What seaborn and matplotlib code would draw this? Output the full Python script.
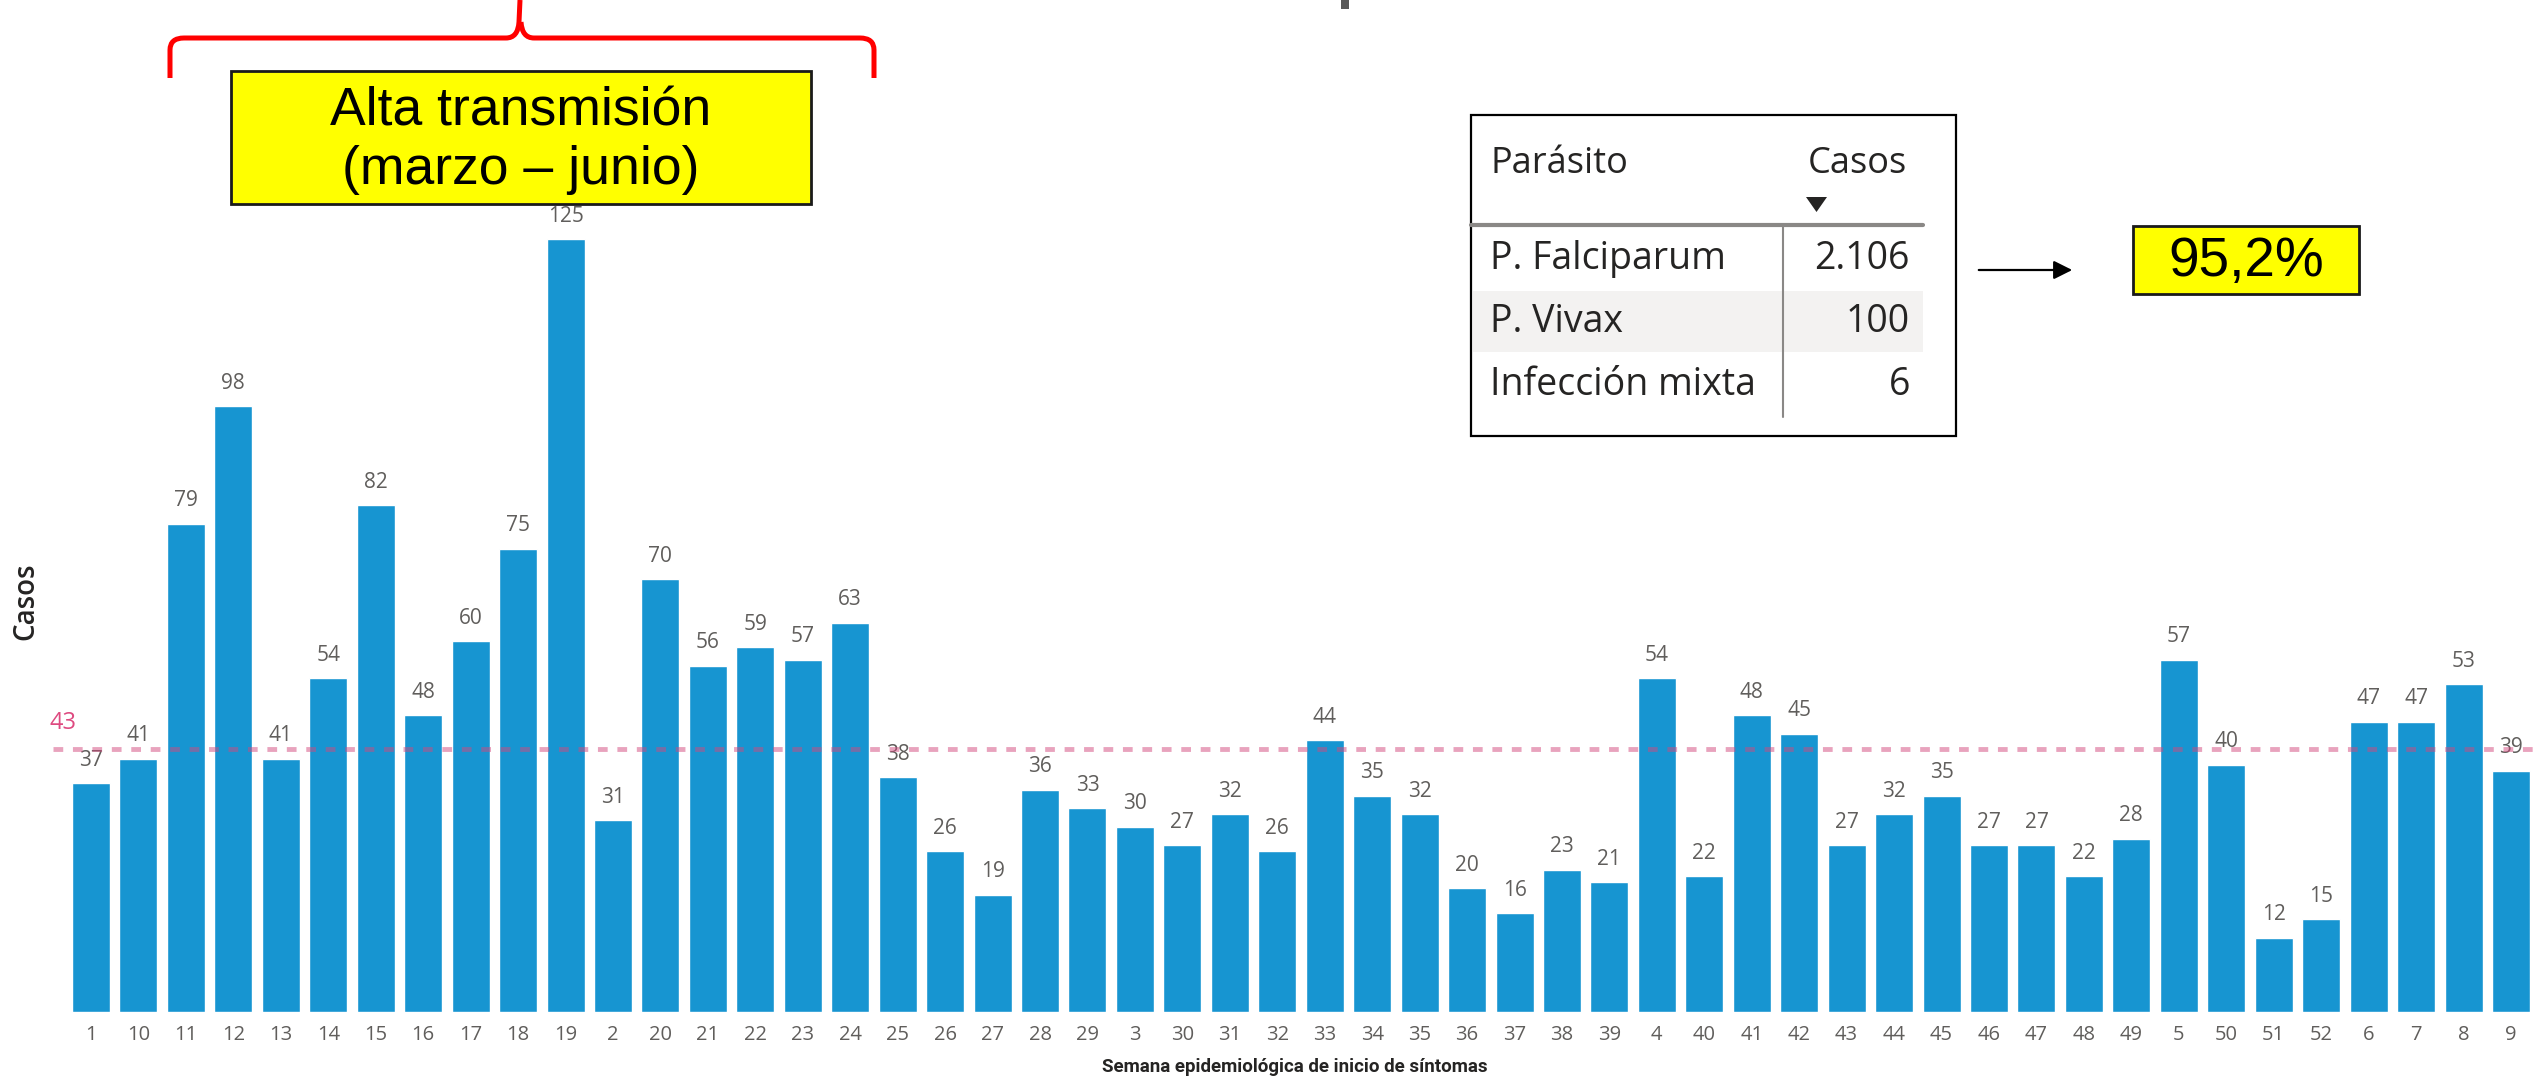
import matplotlib
matplotlib.use("Agg")
import numpy as np
import pandas as pd
import matplotlib.pyplot as plt
import seaborn as sns
from matplotlib import font_manager
from matplotlib.patches import Rectangle, PathPatch, FancyArrowPatch, Polygon
from matplotlib.path import Path
from matplotlib.lines import Line2D

# ---------------- data ----------------
semanas = ["1", "10", "11", "12", "13", "14", "15", "16", "17", "18", "19",
           "2", "20", "21", "22", "23", "24", "25", "26", "27", "28", "29",
           "3", "30", "31", "32", "33", "34", "35", "36", "37", "38", "39",
           "4", "40", "41", "42", "43", "44", "45", "46", "47", "48", "49",
           "5", "50", "51", "52", "6", "7", "8", "9"]
casos = [37, 41, 79, 98, 41, 54, 82, 48, 60, 75, 125,
         31, 70, 56, 59, 57, 63, 38, 26, 19, 36, 33,
         30, 27, 32, 26, 44, 35, 32, 20, 16, 23, 21,
         54, 22, 48, 45, 27, 32, 35, 27, 27, 22, 28,
         57, 40, 12, 15, 47, 47, 53, 39]
parasitos = ["P. Falciparum", "P. Vivax", "Infección mixta"]
parasito_casos = [2106, 100, 6]
titulo_periodo = ["Alta transmisión", "(marzo – junio)"]
x_titulo = "Semana epidemiológica de inicio de síntomas"
y_titulo = "Casos"

df = pd.DataFrame({"semana": semanas, "casos": casos})
media = float(np.mean(casos))
pct = parasito_casos[0] / sum(parasito_casos) * 100

# ---------------- fonts ----------------
sns.set_theme(style="white")
avail = {f.name for f in font_manager.fontManager.ttflist}
UI = ["Open Sans", "DejaVu Sans"]
AX = ["Roboto", "DejaVu Sans"]
if "Liberation Sans Narrow" in avail:
    ARIAL = ["Liberation Sans Narrow", "DejaVu Sans"]
    big_fs, pct_fs = 46, 47
else:
    ARIAL = ["Liberation Sans", "DejaVu Sans"]
    big_fs, pct_fs = 38.5, 39.5
plt.rcParams["font.family"] = UI

W, H = 2534, 1081
PX_PER_UNIT = 6.18


def F(x, y):
    return (x / W, 1 - y / H)


fig = plt.figure(figsize=(W / 100, H / 100), dpi=100)
fig.patch.set_facecolor("white")
ax = fig.add_axes([67.3 / W, 69 / H, (2534.7 - 67.3) / W, 1012 / H])

sns.barplot(data=df, x="semana", y="casos", order=semanas, color="#1795D1",
            saturation=1, width=0.8, ax=ax, errorbar=None)
ax.set_xlim(-0.5, len(semanas) - 0.5)
ax.set_ylim(0, 1012 / PX_PER_UNIT)
for s in ax.spines.values():
    s.set_visible(False)
ax.set_yticks([])
ax.set_xlabel("")
ax.set_ylabel("")
ax.tick_params(axis="x", length=0, pad=9, labelsize=14.5, labelcolor="#605E5C")
for lab in ax.get_xticklabels():
    lab.set_family(UI)

ax.bar_label(ax.containers[0], padding=9, fontsize=15, color="#605E5C",
             family=UI)

# average line
ax.plot([-0.8, len(semanas) - 0.5], [media, media], color="#D3487D", alpha=0.5,
        lw=3.5, ls=(0, (2, 2)), clip_on=False, zorder=5)
ax.annotate(f"{media:.0f}", xy=(-0.59, media), xytext=(0, 19),
            textcoords="offset points", ha="center", va="center",
            fontsize=17, color="#DE4A80", annotation_clip=False)

# axis titles
fig.text(*F(1295, 1067), x_titulo, ha="center", va="center", fontsize=13.5,
         fontweight="bold", color="#252423", family=AX)
ylab = fig.text(*F(26, 601), y_titulo, ha="center", va="center", rotation=90,
                fontsize=20.5, fontweight="semibold", color="#252423", family=UI)
# fit the y title to its measured length in the reference (78 px)
fig.canvas.draw()
ext = ylab.get_window_extent()
ylab.set_fontsize(20.5 * 78.0 / max(ext.height, 1))

# ---------------- red brace ----------------
verts = [F(170, 78), F(170, 50), F(170, 38), F(184, 38), F(506, 38),
         F(518, 38), F(519, 22), F(520, 0),
         F(521, 22), F(522, 38), F(534, 38), F(860, 38),
         F(874, 38), F(874, 50), F(874, 78)]
codes = [Path.MOVETO, Path.LINETO, Path.CURVE3, Path.CURVE3, Path.LINETO,
         Path.CURVE3, Path.CURVE3, Path.LINETO,
         Path.MOVETO, Path.CURVE3, Path.CURVE3, Path.LINETO,
         Path.CURVE3, Path.CURVE3, Path.LINETO]
fig.patches.append(PathPatch(Path(verts, codes), fill=False, edgecolor="#FF0000",
                             lw=3.6, transform=fig.transFigure, capstyle="butt"))

# yellow period box
x0, y0 = F(231, 204)
fig.patches.append(Rectangle((x0, y0), (811 - 231) / W, (204 - 71) / H,
                             facecolor="#FFFF00", edgecolor="#1a1a1a", lw=2,
                             transform=fig.transFigure))
fig.text(*F(521, 111), titulo_periodo[0], ha="center", va="center",
         fontsize=big_fs, color="black", family=ARIAL)
fig.text(*F(521, 170), titulo_periodo[1], ha="center", va="center",
         fontsize=big_fs, color="black", family=ARIAL)

# partial title fragment at top
fx, fy = F(1341, 9)
fig.patches.append(Rectangle((fx, fy), 8 / W, 9 / H, facecolor="#595959",
                             edgecolor="none", transform=fig.transFigure))

# ---------------- table ----------------
tx, ty = F(1471, 436)
fig.patches.append(Rectangle((tx, ty), (1956 - 1471) / W, (436 - 115) / H,
                             facecolor="white", edgecolor="black", lw=1.6,
                             transform=fig.transFigure))
rx, ry = F(1473, 352)
fig.patches.append(Rectangle((rx, ry), (1923 - 1473) / W, (352 - 291) / H,
                             facecolor="#F3F2F1", edgecolor="none",
                             transform=fig.transFigure))
fig.lines.append(Line2D([1471 / W, 1923 / W], [1 - 225 / H] * 2, color="#8A8886",
                        lw=3, transform=fig.transFigure))
fig.lines.append(Line2D([1783 / W] * 2, [1 - 225 / H, 1 - 417 / H], color="#8A8886",
                        lw=1.5, transform=fig.transFigure))
fig.text(*F(1490, 164), "Parásito", ha="left", va="center", fontsize=26,
         color="#252423", family=UI)
fig.text(*F(1907, 164), "Casos", ha="right", va="center", fontsize=26,
         color="#252423", family=UI)
fig.patches.append(Polygon([F(1806, 197), F(1827, 197), F(1816.5, 212)],
                           closed=True, facecolor="#252423", edgecolor="none",
                           transform=fig.transFigure))
row_y = [259, 322, 385]
for name, val, yy in zip(parasitos, parasito_casos, row_y):
    fig.text(*F(1490, yy), name, ha="left", va="center", fontsize=27,
             color="#252423", family=UI)
    fig.text(*F(1910, yy), f"{val:,}".replace(",", "."), ha="right", va="center",
             fontsize=27, color="#252423", family=UI)

# arrow and percentage box
fig.patches.append(FancyArrowPatch(F(1976, 270), F(2075, 270), arrowstyle="-|>",
                                   mutation_scale=28, lw=1.6, color="black",
                                   transform=fig.transFigure))
px, py = F(2133, 294)
fig.patches.append(Rectangle((px, py), (2359 - 2133) / W, (294 - 226) / H,
                             facecolor="#FFFF00", edgecolor="#1a1a1a", lw=2,
                             transform=fig.transFigure))
fig.text(*F(2246, 262), f"{pct:.1f}%".replace(".", ","), ha="center", va="center",
         fontsize=pct_fs, color="black", family=ARIAL)

fig.savefig("out.png", dpi=100, facecolor="white")
